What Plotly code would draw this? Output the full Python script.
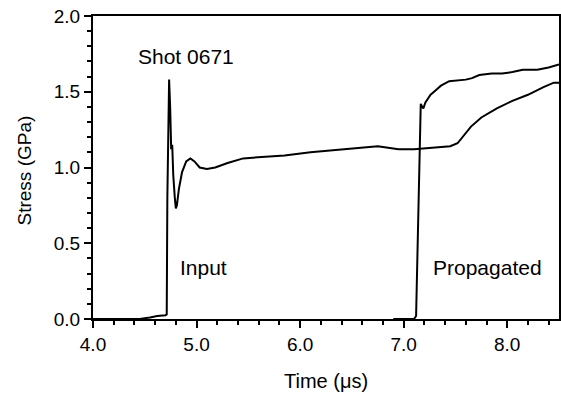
import plotly.graph_objects as go

input_t = [4.00, 4.45, 4.55, 4.62, 4.70, 4.712, 4.718, 4.725, 4.735, 4.745, 4.755, 4.765, 4.775,
           4.79, 4.80, 4.81, 4.83, 4.86, 4.90, 4.94, 4.98, 5.03, 5.10, 5.18, 5.30, 5.45, 5.65,
           5.85, 6.10, 6.40, 6.60, 6.75, 6.85, 6.95, 7.10, 7.30, 7.45, 7.52, 7.58, 7.65, 7.75,
           7.90, 8.05, 8.20, 8.35, 8.45, 8.50]
input_s = [0.0, 0.0, 0.01, 0.02, 0.025, 0.03, 0.8, 1.30, 1.58, 1.40, 1.12, 1.15, 0.95,
           0.80, 0.73, 0.75, 0.86, 0.97, 1.04, 1.06, 1.04, 1.00, 0.99, 1.00, 1.03, 1.06, 1.07,
           1.08, 1.10, 1.12, 1.13, 1.14, 1.13, 1.12, 1.12, 1.13, 1.14, 1.16, 1.21, 1.27, 1.33,
           1.39, 1.44, 1.48, 1.53, 1.56, 1.56]

prop_t = [6.90, 7.10, 7.12, 7.14, 7.165, 7.18, 7.19, 7.21, 7.26, 7.31, 7.36, 7.44, 7.52,
          7.60, 7.66, 7.73, 7.85, 7.95, 8.05, 8.15, 8.29, 8.40, 8.50]
prop_s = [0.0, 0.0, 0.02, 0.6, 1.42, 1.40, 1.39, 1.43, 1.48, 1.51, 1.54, 1.57, 1.575,
          1.58, 1.59, 1.61, 1.62, 1.62, 1.63, 1.645, 1.645, 1.66, 1.68]

x_range = [4.0, 8.5]
y_range = [0.0, 2.0]
x_major = 1.0
x_minor = 0.2
y_major = 0.5
y_minor = 0.1

x_title = "Time (\u03bcs)"
y_title = "Stress (GPa)"
labels = [("Shot 0671", 4.90, 1.73), ("Input", 5.07, 0.34), ("Propagated", 7.81, 0.34)]

FONT = "Liberation Sans, Arial, sans-serif"
W, H = 561, 397
ML, MR, MT, MB = 93, 2, 16, 78

fig = go.Figure()
fig.add_trace(go.Scatter(x=input_t, y=input_s, mode="lines",
                         line=dict(color="black", width=2), showlegend=False))
fig.add_trace(go.Scatter(x=prop_t, y=prop_s, mode="lines",
                         line=dict(color="black", width=2), showlegend=False))


def ax(rng, t0, major, minor, ticks, **kw):
    d = dict(range=rng, tickmode="linear", tick0=t0, dtick=major, tickformat=".1f",
             ticks=ticks, ticklen=7, tickwidth=2, tickcolor="black",
             minor=dict(ticks=ticks, tick0=t0, dtick=minor, ticklen=4,
                        tickwidth=1.5, tickcolor="black"),
             showgrid=False, zeroline=False, showline=True, mirror=True,
             automargin=False, linecolor="black", linewidth=2,
             tickfont=dict(family=FONT, size=19, color="black"))
    d.update(kw)
    return d


fig.update_layout(
    width=W, height=H, autosize=False,
    margin=dict(l=ML, r=MR, t=MT, b=MB, pad=0),
    plot_bgcolor="white", paper_bgcolor="white",
    xaxis=ax(x_range, 4.0, x_major, x_minor, "outside"),
    yaxis=ax(y_range, 0.0, y_major, y_minor, "outside"),
)

for text, x, y in labels:
    fig.add_annotation(x=x, y=y, text=text, showarrow=False,
                       font=dict(family=FONT, size=21, color="black"),
                       xanchor="center", yanchor="middle")

fig.add_annotation(x=0.5, y=-0.205, xref="paper", yref="paper", text=x_title,
                   showarrow=False, xanchor="center", yanchor="middle",
                   font=dict(family=FONT, size=20, color="black"))
fig.add_annotation(x=-0.146, y=0.49, xref="paper", yref="paper", text=y_title,
                   showarrow=False, xanchor="center", yanchor="middle", textangle=-90,
                   font=dict(family=FONT, size=19, color="black"))

fig.write_html("out.html")
